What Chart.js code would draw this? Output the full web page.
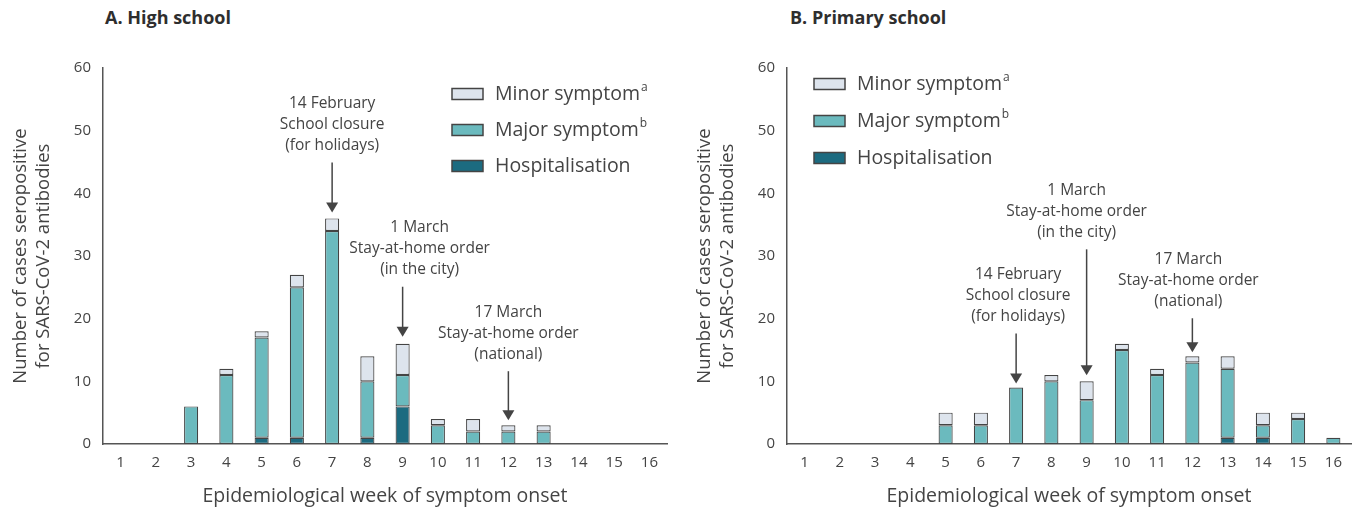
<!DOCTYPE html>
<html>
<head>
<meta charset="utf-8">
<script src="https://cdn.jsdelivr.net/npm/chart.js@4"></script>
<style>
  body { margin: 0; background: #fff; width: 1357px; height: 511px; position: relative; overflow: hidden; font-family: 'Open Sans', sans-serif; }
  .panel { position: absolute; top: 0; }
  .ttl { position: absolute; top: 5px; font-weight: bold; font-size: 18px; color: #2e2e2e; }
</style>
</head>
<body>
<div class="ttl" style="left:105px">A. High school</div>
<div class="ttl" style="left:790px">B. Primary school</div>
<div class="panel" style="left:0px"><canvas id="gA" width="690" height="511"></canvas></div>
<div class="panel" style="left:684px"><canvas id="gB" width="673" height="511"></canvas></div>
<script>
const weeks = ['1', '2', '3', '4', '5', '6', '7', '8', '9', '10', '11', '12', '13', '14', '15', '16'];

// high school
const hsHosp  = [0, 0, 0, 0, 1, 1, 0, 1, 6, 0, 0, 0, 0, 0, 0, 0];
const hsMajor = [0, 0, 6, 11, 16, 24, 34, 9, 5, 3, 2, 2, 2, 0, 0, 0];
const hsMinor = [0, 0, 0, 1, 1, 2, 2, 4, 5, 1, 2, 1, 1, 0, 0, 0];

// primary school
const psHosp  = [0, 0, 0, 0, 0, 0, 0, 0, 0, 0, 0, 0, 1, 1, 0, 0];
const psMajor = [0, 0, 0, 0, 3, 3, 9, 10, 7, 15, 11, 13, 11, 2, 4, 1];
const psMinor = [0, 0, 0, 0, 2, 2, 0, 1, 3, 1, 1, 1, 2, 2, 1, 0];

const yTicks = [0, 10, 20, 30, 40, 50, 60];

const seriesNames = ['Hospitalisation', 'Major symptom', 'Minor symptom'];
const seriesSup = ['', 'b', 'a'];
const colHosp = '#1c6b80', colMajor = '#6bbabe', colMinor = '#dde4ed';
const ink = '#444';

const eventsA = [
    { week: 7, dx: 0, lines: ['14 February', 'School closure', '(for holidays)'], len: 50, gap: 6 },
    { week: 9, dx: 17, lines: ['1 March', 'Stay-at-home order', '(in the city)'], len: 50, gap: 7 },
    { week: 12, dx: 0, lines: ['17 March', 'Stay-at-home order', '(national)'], len: 49, gap: 5 }
];
const eventsB = [
    { week: 7, dx: 2, lines: ['14 February', 'School closure', '(for holidays)'], len: 50, gap: 4 },
    { week: 9, dx: -10, lines: ['1 March', 'Stay-at-home order', '(in the city)'], len: 126, gap: 6 },
    { week: 12, dx: -4, lines: ['17 March', 'Stay-at-home order', '(national)'], len: 34, gap: 4 }
];

Chart.defaults.font.family = "'Open Sans', sans-serif";
Chart.defaults.color = ink;

const extras = {
    id: 'extras',
    afterDraw(chart, args, opts) {
        const ctx = chart.ctx;
        const xs = chart.scales.x, ys = chart.scales.y;
        ctx.save();
        // legend, top to bottom: minor, major, hosp
        const order = [2, 1, 0];
        order.forEach((di, k) => {
            const ds = chart.data.datasets[di];
            const cy = opts.legY + k * opts.legStep;
            ctx.fillStyle = ds.backgroundColor;
            ctx.strokeStyle = ds.borderColor;
            ctx.lineWidth = 1.5;
            ctx.fillRect(opts.legX, cy - 5.5, 31, 11);
            ctx.strokeRect(opts.legX, cy - 5.5, 31, 11);
            ctx.fillStyle = ink;
            ctx.font = "19.5px 'Open Sans'";
            ctx.textAlign = 'left';
            ctx.textBaseline = 'middle';
            ctx.fillText(ds.label, opts.legX + 43, cy);
            if (seriesSup[di]) {
                const w = ctx.measureText(ds.label).width;
                ctx.font = "12px 'Open Sans'";
                ctx.fillText(seriesSup[di], opts.legX + 44 + w, cy - 6);
            }
        });
        // event annotations
        opts.events.forEach(ev => {
            const i = ev.week - 1;
            const total = chart.data.datasets.reduce((s, d) => s + d.data[i], 0);
            const x = xs.getPixelForValue(i);
            const tip = ys.getPixelForValue(total) - ev.gap;
            const start = tip - ev.len;
            ctx.strokeStyle = ink;
            ctx.fillStyle = ink;
            ctx.lineWidth = 1.5;
            ctx.beginPath();
            ctx.moveTo(x, start);
            ctx.lineTo(x, tip - 8);
            ctx.stroke();
            ctx.beginPath();
            ctx.moveTo(x - 6, tip - 10);
            ctx.lineTo(x + 6, tip - 10);
            ctx.lineTo(x, tip);
            ctx.closePath();
            ctx.fill();
            ctx.font = "15.5px 'Open Sans'";
            ctx.textAlign = 'center';
            ctx.textBaseline = 'middle';
            const n = ev.lines.length;
            ev.lines.forEach((t, j) => {
                ctx.fillText(t, x + ev.dx, start - 17 - (n - 1 - j) * 21);
            });
        });
        ctx.restore();
    }
};

function makeChart(id, hosp, major, minor, events, padRight, legX, legY, legStep) {
    const mk = (label, data, color) => ({
        label, data, backgroundColor: color, borderColor: '#444', borderWidth: 1.2,
        borderSkipped: false, barPercentage: 0.4, categoryPercentage: 1.0
    });
    return new Chart(document.getElementById(id), {
        type: 'bar',
        data: {
            labels: weeks,
            datasets: [
                mk(seriesNames[0], hosp, colHosp),
                mk(seriesNames[1], major, colMajor),
                mk(seriesNames[2], minor, colMinor)
            ]
        },
        options: {
            responsive: false,
            animation: false,
            layout: { padding: { top: 68, left: 0, right: padRight, bottom: 0 } },
            plugins: {
                legend: { display: false },
                tooltip: { enabled: false },
                extras: { events, legX, legY, legStep }
            },
            scales: {
                x: {
                    stacked: true,
                    offset: true,
                    grid: { display: false, drawTicks: false },
                    border: { display: true, color: '#555', width: 1.5 },
                    ticks: { padding: 10, font: { size: 15 }, color: ink, maxRotation: 0, autoSkip: false },
                    title: { display: true, text: 'Epidemiological week of symptom onset', font: { size: 19.5 }, color: ink, padding: { top: 0, bottom: 3 } },
                    afterFit: s => { s.height = 67; }
                },
                y: {
                    stacked: true,
                    min: 0, max: 60,
                    afterBuildTicks: s => { s.ticks = yTicks.map(v => ({ value: v })); },
                    grid: { display: false, drawTicks: false },
                    border: { display: true, color: '#555', width: 1.5 },
                    ticks: { padding: 12, font: { size: 15 }, color: ink },
                    title: { display: true, text: ['Number of cases seropositive', 'for SARS-CoV-2 antibodies'], font: { size: 18.5 }, color: ink, padding: { top: 10 } },
                    afterFit: s => { s.width = 103; }
                }
            }
        },
        plugins: [extras]
    });
}

makeChart('gA', hsHosp, hsMajor, hsMinor, eventsA, 23, 452, 94, 36);
makeChart('gB', psHosp, psMajor, psMinor, eventsB, 6, 130, 84, 37);
</script>
</body>
</html>
